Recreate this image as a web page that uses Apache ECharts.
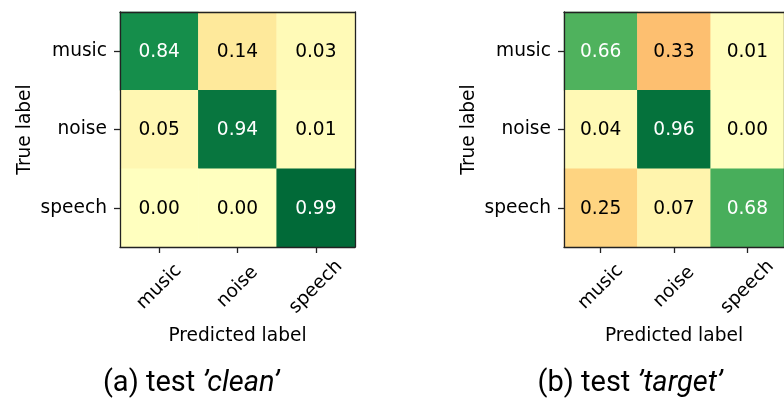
<!DOCTYPE html>
<html>
<head>
<meta charset="utf-8">
<script src="https://cdn.jsdelivr.net/npm/echarts@6/dist/echarts.min.js"></script>
<style>
  html, body { margin: 0; padding: 0; background: #fff; }
  #chart { width: 784px; height: 398px; }
</style>
</head>
<body>
<div id="chart"></div>
<script>
// Class names shared by both confusion matrices
const categories = ['music', 'noise', 'speech'];

// Row-normalised confusion matrices (rows = true label, columns = predicted label)
const cleanMatrix = [
  [0.84, 0.14, 0.03],
  [0.05, 0.94, 0.01],
  [0.00, 0.00, 0.99]
];
const targetMatrix = [
  [0.66, 0.33, 0.01],
  [0.04, 0.96, 0.00],
  [0.25, 0.07, 0.68]
];

// Sub-figure captions
const captionPrefixes = ['(a) test ', '(b) test '];
const captionNames = ['\u2019clean\u2019', '\u2019target\u2019'];

// RdYlGn colour ramp; correct predictions map to the green half,
// confusions to the red half (off-diagonal values are negated for colouring)
const rdYlGn = ['#a50026', '#d73027', '#f46d43', '#fdae61', '#fee08b', '#ffffbf',
                '#d9ef8b', '#a6d96a', '#66bd63', '#1a9850', '#006837'];

const AXIS_FONT = 'DejaVu Sans';
const AXIS_SIZE = 18.6;
const AXIS_COLOR = '#222';

function cells(matrix) {
  const out = [];
  matrix.forEach((row, r) => {
    row.forEach((v, c) => {
      const signed = r === c ? v : -v;
      out.push({
        value: [c, r, v, signed],
        label: { color: v > 0.5 ? '#ffffff' : '#000000' }
      });
    });
  });
  return out;
}

const grids = [
  { left: 120, top: 12, width: 235, height: 235 },
  { left: 564, top: 12, width: 235, height: 235 }
];

const xAxes = [];
const yAxes = [];
grids.forEach((g, i) => {
  xAxes.push({
    type: 'category', gridIndex: i, data: categories, position: 'bottom', z: 10,
    axisLine: { show: true, lineStyle: { color: AXIS_COLOR, width: 1.3 } },
    axisTick: { show: true, alignWithLabel: true, length: 6, lineStyle: { color: AXIS_COLOR, width: 1.3 } },
    axisLabel: {
      rotate: 45, align: 'center', verticalAlign: 'middle', margin: 40,
      fontFamily: AXIS_FONT, fontSize: AXIS_SIZE, color: '#000', interval: 0
    },
    splitLine: { show: false },
    name: 'Predicted label', nameLocation: 'middle', nameGap: 80,
    nameTextStyle: { fontFamily: AXIS_FONT, fontSize: AXIS_SIZE, color: '#000' }
  });
  // top edge of the frame
  xAxes.push({
    type: 'category', gridIndex: i, data: categories, position: 'top', z: 10,
    axisLine: { show: true, lineStyle: { color: AXIS_COLOR, width: 1.3 } },
    axisTick: { show: false }, axisLabel: { show: false }, splitLine: { show: false }
  });
  yAxes.push({
    type: 'category', gridIndex: i, data: categories, inverse: true, position: 'left', z: 10,
    axisLine: { show: true, lineStyle: { color: AXIS_COLOR, width: 1.3 } },
    axisTick: { show: true, alignWithLabel: true, length: 6, lineStyle: { color: AXIS_COLOR, width: 1.3 } },
    axisLabel: { margin: 13, fontFamily: AXIS_FONT, fontSize: AXIS_SIZE, color: '#000', interval: 0 },
    splitLine: { show: false },
    name: 'True label', nameLocation: 'middle', nameGap: 85,
    nameTextStyle: { fontFamily: AXIS_FONT, fontSize: AXIS_SIZE, color: '#000' }
  });
  // right edge of the frame
  yAxes.push({
    type: 'category', gridIndex: i, data: categories, inverse: true, position: 'right', z: 10,
    axisLine: { show: true, lineStyle: { color: AXIS_COLOR, width: 1.3 } },
    axisTick: { show: false }, axisLabel: { show: false }, splitLine: { show: false }
  });
});

const matrices = [cleanMatrix, targetMatrix];
const series = matrices.map((m, i) => ({
  type: 'heatmap',
  xAxisIndex: i * 2,
  yAxisIndex: i * 2,
  data: cells(m),
  label: {
    show: true,
    fontFamily: AXIS_FONT,
    fontSize: AXIS_SIZE,
    offset: [0, 1],
    formatter: p => p.value[2].toFixed(2)
  },
  itemStyle: { borderWidth: 0 },
  emphasis: { disabled: true }
}));

const visualMaps = matrices.map((m, i) => ({
  type: 'continuous', show: false, seriesIndex: i, dimension: 3,
  min: -1, max: 1, inRange: { color: rdYlGn }
}));

const captionCenters = [191, 630];
const graphics = captionCenters.map((cx, i) => ({
  type: 'text',
  x: cx, y: 384,
  style: {
    text: '{n|' + captionPrefixes[i] + '}{it|' + captionNames[i] + '}',
    align: 'center', verticalAlign: 'middle',
    rich: {
      n: { fontFamily: 'Roboto', fontSize: 29, fill: '#000', color: '#000' },
      it: { fontFamily: 'Roboto', fontStyle: 'italic', fontSize: 29, fill: '#000', color: '#000' }
    }
  }
}));

const chart = echarts.init(document.getElementById('chart'), null, { renderer: 'canvas' });
chart.setOption({
  animation: false,
  backgroundColor: '#ffffff',
  grid: grids,
  xAxis: xAxes,
  yAxis: yAxes,
  visualMap: visualMaps,
  series: series,
  graphic: graphics
});
</script>
</body>
</html>
